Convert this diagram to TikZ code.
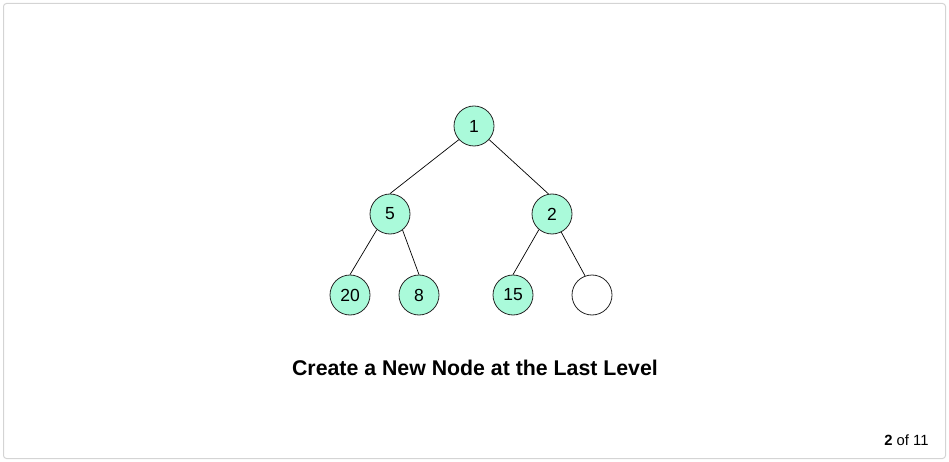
\documentclass[tikz,border=0pt]{standalone}
\usepackage{fontspec}
\setmainfont{Liberation Sans}
\definecolor{mint}{HTML}{AAFADA}
\definecolor{frame}{HTML}{D4D4D4}
\begin{document}
\begin{tikzpicture}[x=1pt,y=-1pt,
  tn/.style={circle,draw=black!85,line width=0.8pt,fill=mint,minimum size=40pt,inner sep=0pt,font=\fontsize{17.5}{19}\selectfont},
  en/.style={circle,draw=black!85,line width=0.8pt,fill=white,minimum size=40pt,inner sep=0pt},
  edge/.style={draw=black,line width=0.7pt}]
\useasboundingbox (0,0) rectangle (949,462);
\draw[frame,line width=1pt,rounded corners=3pt] (3.5,3.5) rectangle (945.5,458.5);
\node[tn] (n1) at (474,126) {1};
\node[tn] (n5) at (390,214) {5};
\node[tn] (n2) at (552,214) {2};
\node[tn] (n20) at (350,295) {20};
\node[tn] (n8) at (419,295) {8};
\node[tn] (n15) at (513,295) {15};
\node[en] (ne) at (592,295) {};
\draw[edge] (n1.222) -- (n5.north);
\draw[edge] (n1.318) -- (n2.100);
\draw[edge] (n5.230) -- (n20.north);
\draw[edge] (n5.308) -- (n8.north);
\draw[edge] (n2.230) -- (n15.north);
\draw[edge] (n2.297) -- (ne.110);
\node[font=\fontsize{21.3}{24}\selectfont\bfseries] (cap) at (475,368) {Create a New Node at the Last Level};
\node[anchor=east,font=\fontsize{14.8}{16}\selectfont] (pg) at (932,440) {\textbf{2} of 11};
\end{tikzpicture}
\end{document}
